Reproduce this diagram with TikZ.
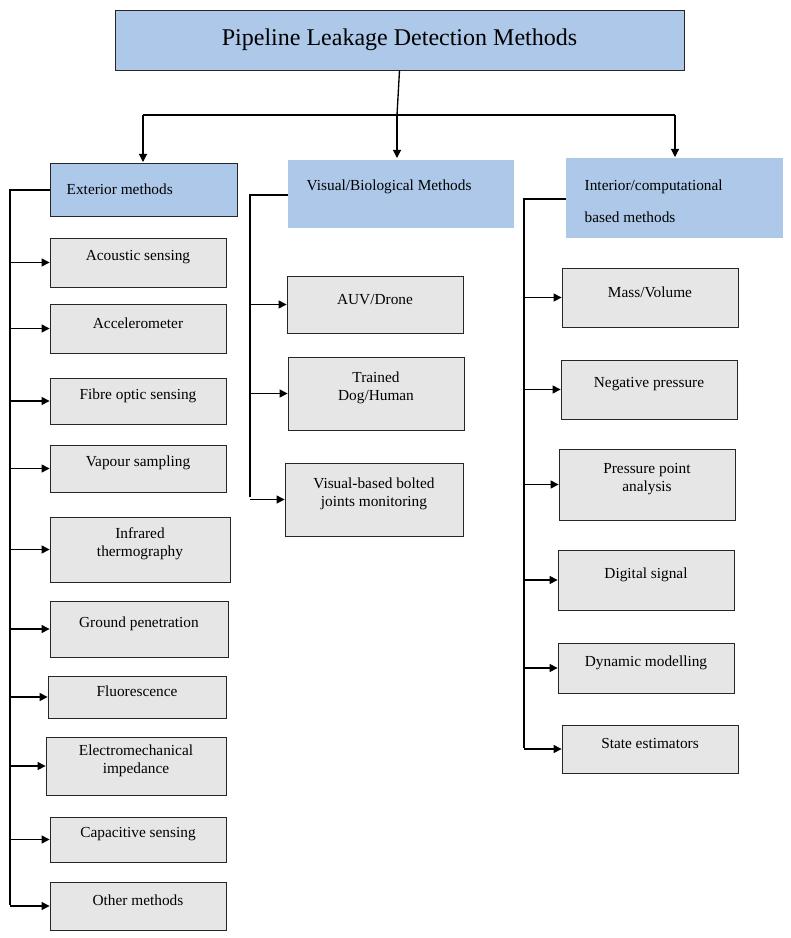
\documentclass[tikz,border=0pt]{standalone}
\usepackage{fontspec}
\setmainfont{Liberation Serif}
\usetikzlibrary{fit,arrows.meta}
\definecolor{bl}{HTML}{ADC8E8}
\definecolor{gr}{HTML}{E6E6E6}
\begin{document}
\begin{tikzpicture}[x=0.75pt,y=-0.75pt,
  box/.style={draw=black!85,fill=gr,inner sep=0pt,align=center,font=\fontsize{11.5}{13.5}\selectfont,line width=0.6pt},
  hb/.style={fill=bl,inner sep=0pt},
  ln/.style={line width=1pt},
  arr/.style={line width=0.8pt,-{Triangle[length=6pt,width=6pt]}}]
\useasboundingbox (0,0) rectangle (791,938);
\newcommand\bx[6]{\node[box,fit={(#2,#3)(#4,#5)}] (#1) {#6};}
% title
\node[hb,draw=black!85,line width=0.6pt,fit={(115,10)(684,70)}] (title) {};
\node[font=\fontsize{18}{20}\selectfont] at (title.center) {Pipeline Leakage Detection Methods};
\node[hb,draw=black!85,line width=0.6pt,fit={(50,163)(237,216)}] (ext) {};
\node[anchor=west,font=\fontsize{11.5}{13.5}\selectfont] at (62,189) {Exterior methods};
\node[hb,fit={(288,160)(514,228)}] (vis) {};
\node[anchor=west,font=\fontsize{11.5}{13.5}\selectfont] at (302,187) {Visual/Biological Methods};
\node[hb,fit={(566,158)(783,238)}] (int) {};
\node[anchor=west,align=left,font=\fontsize{11.5}{24}\selectfont] at (580,201) {Interior/computational\\based methods};
% top connectors
\coordinate (hj) at (397,115);
\coordinate (hl) at (143,115);
\coordinate (hr) at (675,115);
\draw[ln] (title.south) -- (hj);
\draw[ln] (hl) -- (hr);
\draw[arr] (hl) -- (143,162);
\draw[arr] (hj) -- (397,158);
\draw[arr] (hr) -- (675,157);
% left
\bx{a1}{50}{238}{226}{287}{Acoustic sensing}
\bx{a2}{50}{304}{226}{353}{Accelerometer}
\bx{a3}{50}{378}{226}{424}{Fibre optic sensing}
\bx{a4}{50}{445}{226}{492}{Vapour sampling}
\bx{a5}{50}{517}{230}{582}{Infrared\\thermography}
\bx{a6}{50}{601}{228}{657}{Ground penetration}
\bx{a7}{48}{676}{226}{718}{Fluorescence}
\bx{a8}{46}{737}{226}{795}{Electromechanical\\impedance}
\bx{a9}{50}{817}{226}{862}{Capacitive sensing}
\bx{a10}{50}{882}{226}{930}{Other methods}
\coordinate (L) at (10,905);
\coordinate (L0) at (10,190);
\draw[ln] (ext.west|-L0) -- (L0) -- (L);
\foreach \n in {a1,a2,a3,a4,a5,a6,a7,a8,a9,a10}{\draw[arr] (L|-\n.west) -- (\n.west);}
% middle
\bx{b1}{287}{276}{463}{333}{AUV/Drone}
\bx{b2}{288}{357}{464}{430}{Trained\\Dog/Human}
\bx{b3}{285}{463}{463}{536}{Visual-based bolted\\joints monitoring}
\coordinate (M) at (250,497);
\coordinate (M0) at (250,195);
\draw[ln] (vis.west|-M0) -- (M0) -- (M);
\foreach \n in {b1,b2,b3}{\draw[arr] (M|-\n.west) -- (\n.west);}
% right
\bx{c1}{562}{268}{738}{327}{Mass/Volume}
\bx{c2}{561}{360}{737}{419}{Negative pressure}
\bx{c3}{559}{449}{735}{520}{Pressure point\\analysis}
\bx{c4}{558}{550}{734}{610}{Digital signal}
\bx{c5}{558}{643}{734}{693}{Dynamic modelling}
\bx{c6}{562}{725}{738}{773}{State estimators}
\coordinate (R) at (524,748);
\coordinate (R0) at (524,199);
\draw[ln] (int.west|-R0) -- (R0) -- (R);
\foreach \n in {c1,c2,c3,c4,c5,c6}{\draw[arr] (R|-\n.west) -- (\n.west);}
\end{tikzpicture}
\end{document}
